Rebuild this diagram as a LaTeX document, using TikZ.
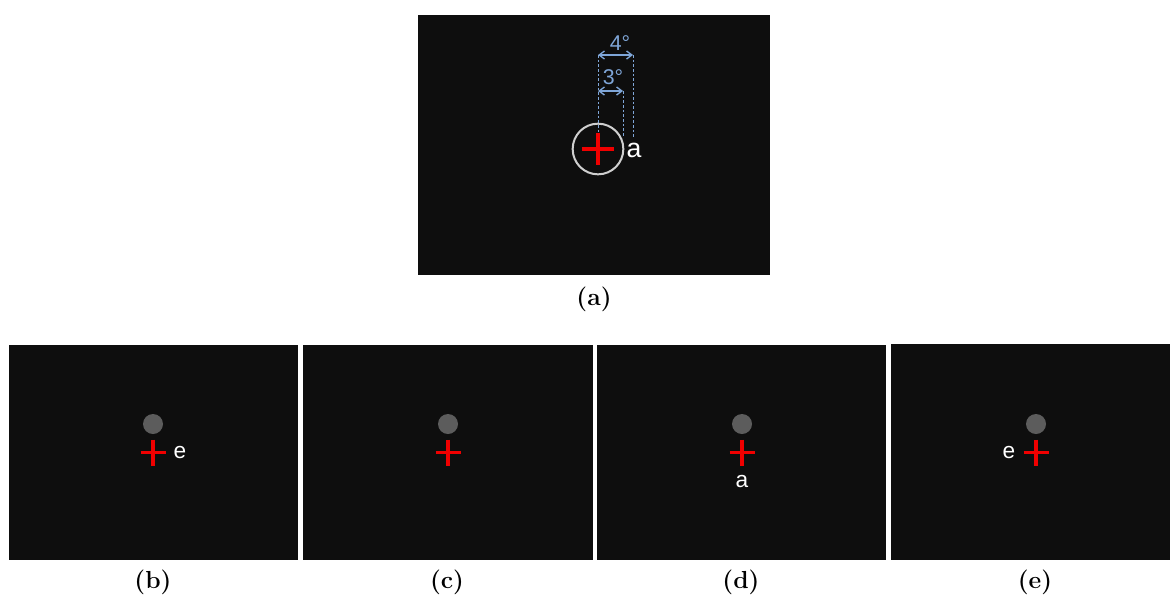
\documentclass[tikz,border=0pt]{standalone}
\usepackage{fontspec}
\newfontfamily\lab{Liberation Sans}
\usetikzlibrary{arrows.meta}
\definecolor{panelbg}{HTML}{0E0E0E}
\definecolor{crossred}{HTML}{F00000}
\definecolor{dotgray}{HTML}{5C5C5C}
\definecolor{dimblue}{HTML}{7FA6D8}
\definecolor{ringgray}{HTML}{CFCFCF}
\begin{document}
\begin{tikzpicture}[x=0.75pt,y=-0.75pt,
  panel/.style={fill=panelbg},
  crossline/.style={crossred,line width=2.3pt},
  dotstyle/.style={circle,fill=dotgray,minimum size=15pt,inner sep=0pt},
  whitelab/.style={text=white,font=\lab\fontsize{17}{19}\selectfont,inner sep=0pt},
  caption/.style={font=\fontsize{18.5}{21}\selectfont\bfseries,inner sep=0pt},
  dimline/.style={dimblue,line width=0.6pt,dash pattern=on 2pt off 1.5pt},
  dimarrow/.style={dimblue,line width=1pt,{Straight Barb[length=4pt,width=6pt]}-{Straight Barb[length=4pt,width=6pt]}},
  dimlab/.style={text=dimblue,font=\lab\fontsize{16}{18}\selectfont,inner sep=0pt}]
\useasboundingbox (0,0) rectangle (1170,594);
\fill[white] (0,0) rectangle (1170,594);
% panel (a)
\fill[panel] (418,15) rectangle (770,275);
\coordinate (ca) at (598,149);
\node[draw=ringgray,line width=1.5pt,circle,minimum size=38pt,inner sep=0pt] (ring) at (ca) {};
\draw[crossline] (582,149) -- (614,149);
\draw[crossline] (598,133) -- (598,165);
\node[whitelab,font=\lab\fontsize{20}{22}\selectfont] (la) at (634,150) {a};
\coordinate (d0t) at (598,55);
\coordinate (d0b) at (598,133);
\coordinate (d3t) at (623,91);
\coordinate (d3b) at (623,136);
\coordinate (d4t) at (633,55);
\coordinate (d4b) at (633,137);
\draw[dimline] (d0t) -- (d0b);
\draw[dimline] (d3t) -- (d3b);
\draw[dimline] (d4t) -- (d4b);
\coordinate (a3l) at (598,91);
\draw[dimarrow] (a3l) -- (d3t);
\draw[dimarrow] (d0t) -- (d4t);
\node[dimlab] (l4) at (620,43) {4°};
\node[dimlab] (l3) at (613,77) {3°};
\node[caption] (capa) at (594,299) {(a)};
% bottom panels
\fill[panel] (9,345) rectangle (298,560);
\fill[panel] (303,345) rectangle (593,560);
\fill[panel] (597,345) rectangle (886,560);
\fill[panel] (891,344) rectangle (1170,560);
\foreach \x/\n in {153/b,448/c,742/d,1036/e}{
  \node[dotstyle] (dot\n) at (\x,424) {};
  \draw[crossline] (\x-12.5,452.5) -- (\x+12.5,452.5);
  \draw[crossline] (\x,439.5) -- (\x,465.5);
}
\node[whitelab] (lb) at (180,453) {e};
\node[whitelab] (ld) at (742,481) {a};
\node[whitelab] (le) at (1009,453) {e};
\node[caption] (capb) at (153,582) {(b)};
\node[caption] (capc) at (447,582) {(c)};
\node[caption] (capd) at (741,582) {(d)};
\node[caption] (cape) at (1035,582) {(e)};
\end{tikzpicture}
\end{document}
